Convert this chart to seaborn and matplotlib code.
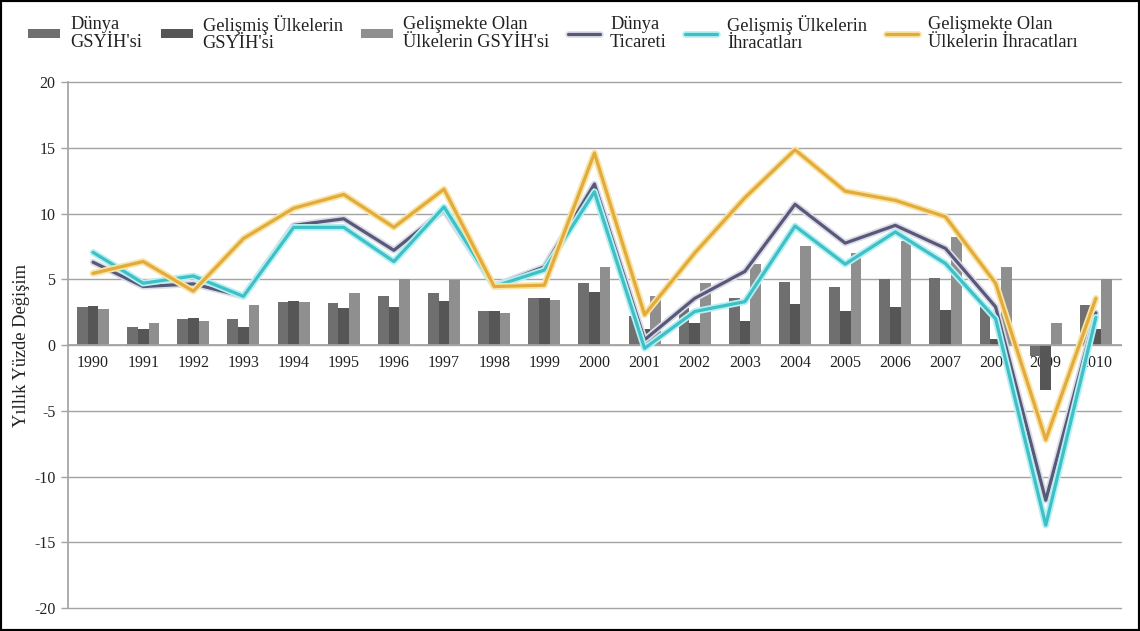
import numpy as np
import matplotlib
matplotlib.use("Agg")
import matplotlib.pyplot as plt
import matplotlib.patheffects as pe
from matplotlib.patches import Rectangle
import pandas as pd
import seaborn as sns

years = [str(y) for y in range(1990, 2011)]

# bars: yearly GDP growth (%)
world_gdp = [2.9, 1.4, 1.95, 2.0, 3.3, 3.2, 3.7, 3.95, 2.55, 3.55, 4.75,
             2.2, 2.85, 3.55, 4.8, 4.45, 5.0, 5.1, 2.9, -0.8, 3.05]
developed_gdp = [3.0, 1.2, 2.05, 1.35, 3.35, 2.8, 2.9, 3.35, 2.55, 3.6, 4.05,
                 1.25, 1.65, 1.8, 3.1, 2.55, 2.9, 2.65, 0.45, -3.45, 1.25]
developing_gdp = [2.75, 1.65, 1.8, 3.05, 3.25, 3.95, 5.0, 4.95, 2.45, 3.4, 5.9,
                  3.7, 4.7, 6.15, 7.5, 7.0, 7.9, 8.25, 5.95, 1.7, 5.0]

# lines: trade / exports growth (%)
world_trade = [6.3, 4.45, 4.65, 3.7, 9.1, 9.6, 7.2, 10.25, 4.5, 5.95, 12.25,
               0.4, 3.55, 5.6, 10.7, 7.75, 9.1, 7.35, 2.9, -11.8, 2.45]
developed_exports = [7.05, 4.7, 5.25, 3.7, 8.95, 8.95, 6.35, 10.5, 4.45, 5.7, 11.65,
                     -0.25, 2.55, 3.3, 9.05, 6.15, 8.6, 6.2, 2.0, -13.7, 2.1]
developing_exports = [5.45, 6.35, 4.1, 8.1, 10.4, 11.45, 8.95, 11.85, 4.45, 4.55, 14.6,
                      2.3, 7.0, 11.2, 14.85, 11.7, 11.0, 9.75, 4.7, -7.2, 3.55]

bar_names = ["Dünya\nGSYİH'si", "Gelişmiş Ülkelerin\nGSYİH'si",
             "Gelişmekte Olan\nÜlkelerin GSYİH'si"]
line_names = ["Dünya\nTicareti", "Gelişmiş Ülkelerin\nİhracatları",
              "Gelişmekte Olan\nÜlkelerin İhracatları"]

bar_colors = ["#6f6f6f", "#565656", "#8f8f8f"]
line_colors = ["#58587a", "#3fbfc6", "#e3ab3c"]
glow_colors = ["#dcdce6", "#b4f0f2", "#f7e4a6"]

sns.set_theme(style="white")
plt.rcParams['font.family'] = ['Liberation Serif', 'DejaVu Serif']
plt.rcParams['axes.unicode_minus'] = False

bars_df = pd.DataFrame({
    'year': years * 3,
    'value': world_gdp + developed_gdp + developing_gdp,
    'series': [bar_names[0]] * 21 + [bar_names[1]] * 21 + [bar_names[2]] * 21,
})

fig = plt.figure(figsize=(11.4, 6.31), dpi=100)
ax = fig.add_axes([0.0596, 0.0364, 0.9237, 0.8336])

sns.barplot(data=bars_df, x='year', y='value', hue='series', hue_order=bar_names,
            palette=bar_colors, width=0.64, saturation=1, errorbar=None,
            edgecolor='none', linewidth=0, legend=False, ax=ax, zorder=2)

xs = np.arange(len(years))
lines = []
for vals, name, col, glow in zip([world_trade, developed_exports, developing_exports],
                                 line_names, line_colors, glow_colors):
    sns.lineplot(x=xs, y=vals, color=col, linewidth=2.3, ax=ax, zorder=4,
                 label=name)
    ln = ax.get_lines()[-1]
    ln.set_path_effects([pe.Stroke(linewidth=4.8, foreground=glow), pe.Normal()])
    lines.append(ln)

ax.set_xlim(-0.5, len(years) - 0.5)
ax.set_ylim(-20, 20)
ax.set_yticks(np.arange(-20, 21, 5))
ax.yaxis.grid(True, color="#a3a3a3", linewidth=1.0, zorder=0)
ax.xaxis.grid(False)
ax.set_axisbelow(True)
for gl in ax.get_ygridlines():
    gl.set_clip_on(False)

for s in ['top', 'right']:
    ax.spines[s].set_visible(False)
ax.spines['left'].set_color("#a3a3a3")
ax.spines['bottom'].set_color("#a3a3a3")
ax.spines['bottom'].set_position(('data', 0))
ax.spines['bottom'].set_zorder(3)

ax.set_xticks(xs)
ax.set_xticklabels(years)
ax.set_xticks(np.arange(-0.5, len(years), 1), minor=True)
ax.tick_params(axis='x', which='major', length=0, pad=7, labelsize=11.5, labelcolor="#222222")
ax.tick_params(axis='x', which='minor', length=4, width=1, color="#a3a3a3", direction='out')
ax.tick_params(axis='y', which='major', left=True, length=5, width=1, color="#a3a3a3",
               pad=4, labelsize=11.5, labelcolor="#222222")

ax.set_xlabel('')
ax.set_ylabel('Yıllık Yüzde Değişim', fontsize=13.3, color="#222222")
ax.yaxis.set_label_coords(-0.036, 0.5)

if ax.get_legend():
    ax.get_legend().remove()

handles = [Rectangle((0, 0), 1, 1, facecolor=c, edgecolor='none') for c in bar_colors] + lines
labels = bar_names + line_names
leg = fig.legend(handles, labels, loc='center left', bbox_to_anchor=(0.0246, 0.947),
                 bbox_transform=fig.transFigure, ncol=6, frameon=False, fontsize=13.2,
                 handlelength=1.75, handleheight=0.4, handletextpad=0.55,
                 columnspacing=1.0, borderpad=0, borderaxespad=0)
for t in leg.get_texts():
    t.set_linespacing(1.05)
    t.set_multialignment('left')
    t.set_color("#222222")

fig.patches.append(Rectangle((0, 0), 1, 1, transform=fig.transFigure, fill=False,
                             edgecolor='black', linewidth=3, zorder=10))

fig.savefig('out.png', dpi=100)
